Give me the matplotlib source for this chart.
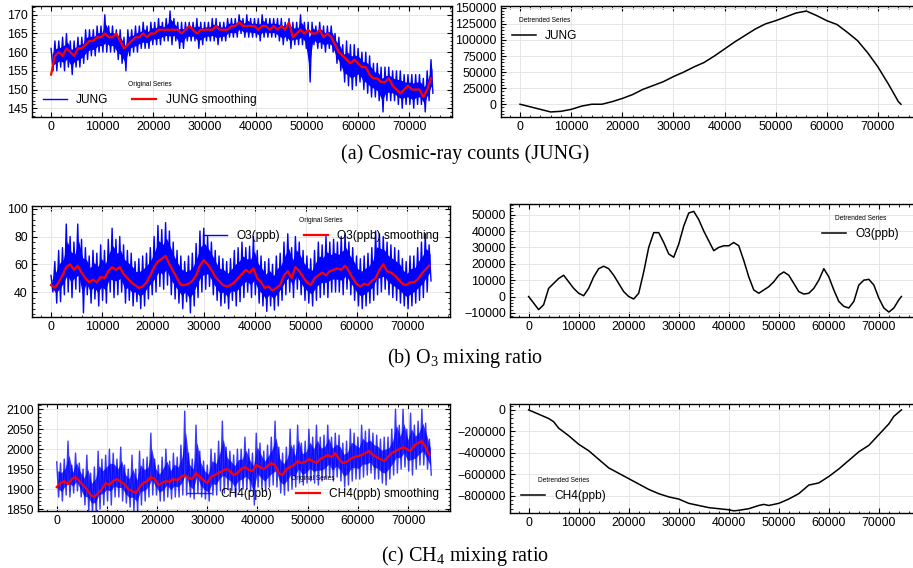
import numpy as np
import matplotlib
matplotlib.use("Agg")
import matplotlib.pyplot as plt
from matplotlib.ticker import AutoMinorLocator, MultipleLocator

plt.rcParams['font.family'] = ['Liberation Sans', 'DejaVu Sans']
plt.rcParams['mathtext.fontset'] = 'custom'
plt.rcParams['mathtext.rm'] = 'Liberation Serif'
plt.rcParams['mathtext.it'] = 'Liberation Serif:italic'

# ---------------- data ----------------
STEP = 750  # spacing of the sampled points along the time index

jung_hi = [161, 163, 163, 164, 165, 163, 163, 164, 164, 166, 166, 166, 167, 167, 170, 167, 167, 166, 166, 164,
           166, 166, 167, 167, 168, 167, 168, 168, 169, 168, 169, 171, 169, 168, 168, 168, 168, 168, 169, 168,
           168, 168, 169, 169, 168, 168, 169, 169, 169, 170, 169, 170, 169, 169, 169, 170, 169, 169, 169, 169,
           169, 168, 169, 168, 168, 170, 168, 168, 168, 167, 168, 167, 167, 167, 165, 164, 162, 163, 162, 162,
           161, 160, 160, 159, 157, 157, 156, 156, 156, 155, 155, 155, 154, 154, 154, 154, 154, 153, 155, 158]
jung_lo = [155, 155, 156, 155, 156, 154, 156, 156, 157, 158, 159, 159, 160, 160, 160, 160, 160, 158, 157, 155,
           159, 160, 160, 161, 161, 161, 162, 162, 162, 163, 163, 162, 163, 161, 161, 163, 163, 163, 161, 162,
           163, 163, 163, 162, 163, 163, 164, 164, 164, 165, 164, 164, 164, 164, 163, 164, 164, 164, 164, 163,
           162, 163, 161, 162, 162, 162, 161, 152, 162, 161, 161, 160, 161, 160, 157, 155, 152, 151, 150, 151,
           152, 150, 149, 148, 148, 147, 144, 147, 147, 147, 146, 145, 146, 146, 145, 146, 146, 144, 147, 149]
jung_smooth = [154, 159, 160, 159, 161, 160, 159, 161, 161, 162, 163, 163, 164, 164, 165, 164, 164, 165, 163, 161,
               162, 163, 164, 164, 165, 164, 165, 165, 166, 166, 166, 166, 166, 166, 165, 166, 167, 166, 165, 166,
               166, 166, 166, 167, 166, 166, 166, 167, 167, 168, 167, 167, 167, 167, 166, 167, 167, 166, 167, 166,
               167, 166, 168, 164, 165, 166, 165, 166, 165, 165, 166, 164, 165, 164, 162, 160, 159, 158, 157, 158,
               157, 156, 156, 154, 153, 153, 152, 152, 153, 151, 150, 149, 150, 151, 150, 150, 150, 148, 150, 153]

jung_det_x = [0, 2000, 4000, 6000, 8000, 10000, 12000, 14000, 16000, 18000, 20000, 22000, 24000, 26000,
              28000, 30000, 32000, 34000, 36000, 38000, 40000, 42000, 44000, 46000, 48000, 50000, 52000,
              54000, 56000, 58000, 60000, 62000, 64000, 66000, 68000, 70000, 72000, 74000, 74500]
jung_det = [0, -4000, -8000, -12000, -11000, -8000, -3000, 0, 0, 4000, 9000, 15000, 23000, 29000,
            35000, 43000, 50000, 58000, 65000, 75000, 86000, 97000, 107000, 117000, 125000, 130000, 136000,
            142000, 145000, 138000, 130000, 124000, 112000, 99000, 80000, 58000, 32000, 4000, 0]

o3_hi = [52, 62, 70, 72, 89, 80, 76, 89, 78, 72, 66, 70, 68, 74, 70, 78, 86, 78, 80, 74,
         70, 68, 62, 64, 66, 68, 72, 80, 88, 85, 90, 84, 76, 70, 66, 62, 66, 68, 75, 84,
         86, 80, 76, 70, 66, 64, 62, 64, 70, 72, 76, 72, 73, 80, 70, 66, 62, 64, 60, 66,
         68, 76, 82, 72, 80, 76, 70, 66, 64, 70, 76, 74, 80, 76, 78, 76, 80, 82, 76, 72,
         66, 64, 66, 68, 72, 84, 82, 80, 76, 74, 72, 70, 64, 62, 66, 66, 72, 76, 82, 74]
o3_lo = [40, 32, 33, 38, 40, 36, 42, 40, 25, 38, 32, 35, 30, 34, 32, 40, 36, 38, 40, 32,
         34, 30, 33, 28, 30, 35, 38, 40, 44, 42, 45, 38, 35, 32, 28, 33, 25, 30, 36, 40,
         42, 44, 38, 34, 30, 32, 28, 34, 30, 33, 36, 40, 36, 38, 32, 30, 26, 30, 27, 30,
         34, 38, 40, 36, 42, 38, 34, 32, 30, 34, 36, 38, 36, 40, 40, 40, 38, 42, 38, 34,
         30, 28, 30, 32, 34, 38, 40, 42, 38, 36, 34, 32, 30, 28, 30, 32, 34, 36, 40, 48]
o3_smooth = [45, 43, 47, 52, 58, 60, 56, 59, 54, 50, 47, 49, 47, 51, 50, 55, 58, 56, 58, 53,
             50, 47, 45, 43, 44, 47, 52, 58, 62, 64, 66, 60, 55, 50, 45, 45, 46, 48, 52, 59,
             63, 60, 56, 51, 48, 45, 44, 45, 47, 50, 53, 56, 54, 57, 50, 47, 43, 44, 41, 43,
             45, 52, 55, 50, 58, 55, 51, 47, 45, 50, 52, 54, 52, 55, 56, 57, 56, 59, 55, 50,
             46, 44, 46, 45, 48, 50, 56, 60, 55, 54, 52, 49, 46, 45, 47, 47, 49, 53, 56, 59]

o3_det_x = [0, 1000, 2000, 3000, 4000, 5000, 6000, 7000, 8000, 9000, 10000, 11000, 12000, 13000, 14000,
            15000, 16000, 17000, 18000, 19000, 20000, 21000, 22000, 23000, 24000, 25000, 26000, 27000,
            28000, 29000, 30000, 31000, 32000, 33000, 34000, 35000, 36000, 37000, 38000, 39000, 40000,
            41000, 42000, 43000, 44000, 45000, 46000, 47000, 48000, 49000, 50000, 51000, 52000, 53000,
            54000, 55000, 56000, 57000, 58000, 59000, 60000, 61000, 62000, 63000, 64000, 65000, 66000,
            67000, 68000, 69000, 70000, 71000, 72000, 73000, 74000, 74500]
o3_det = [0, -4000, -8000, -5000, 5000, 8000, 11000, 13000, 9000, 5000, 2000, 500, 5000, 12000, 17000,
          18500, 17000, 13000, 8000, 3000, 0, -1500, 2000, 15000, 30000, 39000, 39000, 33000,
          26000, 24000, 32000, 43000, 51000, 52000, 47000, 40000, 34000, 28000, 30000, 31000, 31000,
          33000, 31000, 22000, 12000, 4000, 2000, 4000, 6000, 9000, 13000, 15000, 13000, 8000,
          3000, 1500, 2000, 5000, 10000, 17000, 12000, 4000, -3000, -6000, -7000, -3000, 7000,
          10000, 10500, 7000, -1000, -7000, -9500, -7000, -2000, 0]

ch4_hi = [1968, 1965, 1975, 2020, 1960, 1990, 1965, 1950, 1985, 1940, 1955, 1995, 1975, 1985, 2000, 1990, 1975, 2005, 1960, 1950,
          1985, 1950, 1995, 1975, 1980, 2040, 1975, 1960, 1980, 2000, 1970, 1990, 1980, 2010, 2095, 1990, 1975, 2060, 1995, 1970,
          1960, 2000, 1990, 2020, 2070, 2005, 1995, 1985, 2000, 2000, 2030, 2000, 1990, 2040, 2015, 1995, 2010, 2030, 2070, 2005,
          1990, 2005, 2050, 2010, 2060, 2015, 2020, 2050, 2030, 2060, 2030, 2035, 2060, 2030, 2040, 2035, 2015, 2020, 2050, 2040,
          2030, 2060, 2045, 2050, 2040, 2035, 2025, 2030, 2030, 2050, 2100, 2060, 2100, 2050, 2090, 2060, 2070, 2100, 2065, 2025]
ch4_lo = [1880, 1870, 1885, 1880, 1890, 1895, 1880, 1860, 1845, 1840, 1836, 1850, 1860, 1870, 1860, 1880, 1880, 1870, 1865, 1855,
          1845, 1842, 1860, 1870, 1880, 1885, 1885, 1870, 1870, 1880, 1875, 1880, 1880, 1885, 1885, 1880, 1875, 1890, 1880, 1875,
          1870, 1885, 1885, 1895, 1890, 1900, 1895, 1880, 1895, 1900, 1900, 1895, 1860, 1905, 1900, 1895, 1905, 1910, 1905, 1890,
          1885, 1895, 1900, 1905, 1915, 1910, 1915, 1920, 1915, 1910, 1920, 1925, 1930, 1920, 1930, 1920, 1905, 1910, 1920, 1925,
          1925, 1930, 1935, 1940, 1925, 1925, 1915, 1910, 1925, 1935, 1940, 1950, 1955, 1945, 1935, 1950, 1960, 1960, 1950, 1935]
ch4_smooth = [1905, 1915, 1920, 1912, 1925, 1930, 1920, 1910, 1900, 1885, 1880, 1890, 1900, 1915, 1910, 1920, 1925, 1918, 1912, 1900,
              1895, 1890, 1905, 1915, 1920, 1930, 1925, 1910, 1915, 1920, 1918, 1925, 1922, 1930, 1935, 1928, 1925, 1940, 1930, 1922,
              1915, 1930, 1935, 1940, 1945, 1950, 1945, 1935, 1940, 1950, 1955, 1948, 1945, 1960, 1955, 1950, 1958, 1965, 1960, 1940,
              1935, 1950, 1955, 1960, 1970, 1965, 1968, 1975, 1970, 1965, 1975, 1980, 1985, 1980, 1990, 1975, 1965, 1968, 1975, 1980,
              1982, 1985, 1990, 1995, 1985, 1980, 1975, 1970, 1980, 1990, 1995, 2000, 2005, 2000, 1995, 2010, 2015, 2020, 2005, 1985]

ch4_det_x = [0, 2000, 4000, 5000, 6000, 8000, 10000, 12000, 14000, 16000, 18000, 20000, 22000, 24000, 26000,
             28000, 30000, 32000, 34000, 36000, 38000, 40000, 41000, 42000, 44000, 46000, 47000, 48000, 50000,
             52000, 54000, 56000, 58000, 60000, 62000, 64000, 66000, 68000, 70000, 72000, 73000, 74500]
ch4_det = [0, -40000, -80000, -110000, -170000, -240000, -320000, -380000, -460000, -540000, -590000,
           -640000, -690000, -740000, -780000, -810000, -830000, -870000, -890000, -910000, -920000,
           -930000, -940000, -935000, -920000, -890000, -880000, -890000, -870000, -830000, -780000,
           -700000, -680000, -620000, -550000, -470000, -390000, -330000, -230000, -130000, -60000, 0]

captions = ["(a) Cosmic-ray counts (JUNG)", "(b) O$_3$ mixing ratio", "(c) CH$_4$ mixing ratio"]

# ---------------- figure ----------------
W, H = 913, 568
fig = plt.figure(figsize=(W / 100, H / 100), dpi=100)


def add_ax(l, t, r, b):
    return fig.add_axes([l / W, 1 - b / H, (r - l) / W, (b - t) / H])


def style(ax, ymajor):
    ax.yaxis.set_major_locator(MultipleLocator(ymajor))
    ax.xaxis.set_major_locator(MultipleLocator(10000))
    ax.tick_params(which='both', direction='in', top=True, right=True, labelsize=8.9, pad=3)
    ax.tick_params(which='major', length=3.5, width=0.8)
    ax.tick_params(which='minor', length=1.8, width=0.6)
    ax.xaxis.set_minor_locator(AutoMinorLocator(5))
    ax.yaxis.set_minor_locator(AutoMinorLocator(5))
    ax.grid(True, which='major', color='#e6e6e6', linewidth=0.7)
    ax.set_axisbelow(True)
    for s in ax.spines.values():
        s.set_linewidth(1.0)


def zig(hi, lo):
    xh = np.arange(len(hi)) * STEP
    xl = np.arange(len(lo)) * STEP + STEP / 2
    n = min(len(hi), len(lo))
    xs = np.empty(2 * n)
    ys = np.empty(2 * n)
    xs[0::2] = xh[:n]
    xs[1::2] = xl[:n]
    ys[0::2] = np.asarray(hi[:n], float)
    ys[1::2] = np.asarray(lo[:n], float)
    return xs, ys


def orig_panel(ax, hi, lo, smooth, name, loc, ymajor, blue_alpha=1.0, **legkw):
    xs, ys = zig(hi, lo)
    n = min(len(hi), len(lo))
    xb = np.arange(n) * STEP + STEP / 4
    ax.fill_between(xb, np.asarray(hi[:n]) - 0.25 * (np.asarray(hi[:n]) - np.asarray(lo[:n])),
                    np.asarray(lo[:n]) + 0.25 * (np.asarray(hi[:n]) - np.asarray(lo[:n])),
                    color='#0000ff', alpha=blue_alpha, lw=0)
    ax.plot(xs, ys, color='#0000ff', lw=1.0, alpha=blue_alpha, label=name)
    xsm = np.arange(len(smooth)) * STEP
    ax.plot(xsm, smooth, color='#ff0000', lw=1.6, label=name + ' smoothing')
    style(ax, ymajor)
    leg = ax.legend(loc=loc, ncol=2, frameon=False, fontsize=8.6, title='Original Series',
                    title_fontproperties={'size': 4.8}, **legkw)
    return leg


def det_panel(ax, x, y, name, loc, ymajor, **legkw):
    ax.plot(x, y, color='black', lw=1.1, label=name)
    style(ax, ymajor)
    ax.legend(loc=loc, frameon=False, fontsize=8.6, title='Detrended Series',
              title_fontproperties={'size': 4.8}, **legkw)


# Row 1
ax = add_ax(32, 6, 452, 117)
orig_panel(ax, jung_hi, jung_lo, jung_smooth, 'JUNG', 'lower left', 5)
ax = add_ax(501, 6, 920, 117)
det_panel(ax, jung_det_x, jung_det, 'JUNG', 'upper left', 25000)

# Row 2
ax = add_ax(32, 206, 450, 317)
orig_panel(ax, o3_hi, o3_lo, o3_smooth, 'O3(ppb)', 'upper right', 20)
ax.set_ylim(22, 102)
ax = add_ax(510, 204, 920, 317)
det_panel(ax, o3_det_x, o3_det, 'O3(ppb)', 'upper right', 10000, bbox_to_anchor=(0.975, 1.0))
ax.set_ylim(-12500, 56500)

# Row 3
ax = add_ax(38, 404, 450, 511)
orig_panel(ax, ch4_hi, ch4_lo, ch4_smooth, 'CH4(ppb)', 'lower right', 50, blue_alpha=0.78)
ax.set_ylim(1845, 2113)
ax = add_ax(510, 404, 920, 513)
det_panel(ax, ch4_det_x, ch4_det, 'CH4(ppb)', 'lower left', 200000)
ax.set_ylim(-960000, 55000)

for cap, yc in zip(captions, [154, 358, 556]):
    fig.text(465 / W, 1 - yc / H, cap, ha='center', va='center', fontsize=14.5,
             family=['Liberation Serif', 'DejaVu Serif'])

fig.savefig('out.png', dpi=100)
